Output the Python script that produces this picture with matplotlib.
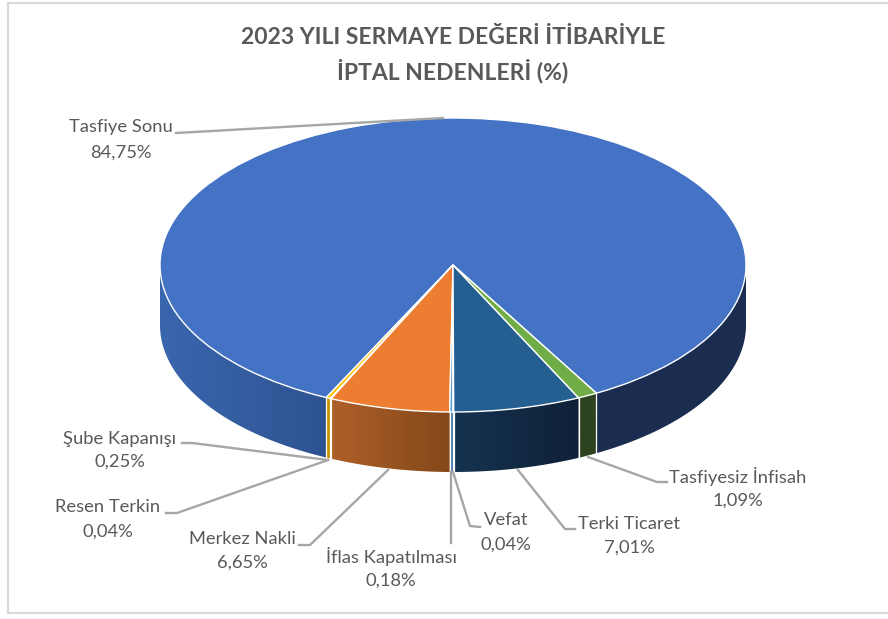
import numpy as np
import matplotlib
matplotlib.use("Agg")
import matplotlib.pyplot as plt
from matplotlib.colors import LinearSegmentedColormap
from matplotlib.patches import Polygon

W, H = 888, 619

categories = ["Tasfiye Sonu", "Şube Kapanışı", "Resen Terkin", "Merkez Nakli",
              "İflas Kapatılması", "Vefat", "Terki Ticaret", "Tasfiyesiz İnfisah"]
values = [84.75, 0.25, 0.04, 6.65, 0.18, 0.04, 7.01, 1.09]
top_colors = ["#4472C4", "#FFC000", "#A5A5A5", "#ED7D31", "#5B9BD5", "#264478", "#255E91", "#70AD47"]
# side wall gradients (left, right) for each visible piece of a slice
side_colors = [[("#3A66AE", "#2E5391"), ("#1A2D50", "#1A2D50")],
               [("#C79400", "#C79400")],
               [("#808080", "#808080")],
               [("#AE5F28", "#84481A")],
               [("#3F75A8", "#3F75A8")],
               [("#1B3056", "#1B3056")],
               [("#153350", "#0F2138")],
               [("#2D431F", "#2D431F")]]

START_ANGLE = -60.7
CX, CY, RX, RY = 453, 265, 293, 147
DEPTH = 60 / RY

# label centre x, first line y, second line y
label_pos = [(121, 127, 153), (120, 439, 462), (108, 507, 532), (242, 539, 563),
             (391, 557, 581), (506, 520, 545), (629, 524, 548), (738, 476, 501)]
leaders = [[(176, 133), (443, 118)],
           [(182, 443), (192, 443), (328, 460)],
           [(166, 513), (177, 513), (328, 460)],
           [(299, 545), (310, 545), (388, 470)],
           [(451, 472), (451, 543)],
           [(453, 472), (470, 526), (480, 527)],
           [(518, 470), (565, 529), (575, 529)],
           [(588, 457), (657, 482), (667, 482)]]

plt.rcParams['font.family'] = ['Lato', 'DejaVu Sans']

fig = plt.figure(figsize=(W / 100, H / 100), dpi=100, facecolor="white")

## Pie axes, one data unit is the pie radius
ax = fig.add_axes([0, 0, 1, 1])
ax.pie(values, colors=top_colors, startangle=START_ANGLE, counterclock=True, radius=1,
       wedgeprops={"edgecolor": "white", "linewidth": 1.0, "zorder": 5})
ax.set_aspect("auto")

fractions = np.array(values) / sum(values)
edges = START_ANGLE + 360 * np.concatenate([[0], np.cumsum(fractions)])

for i in range(len(values)):
    pieces = []
    for k in (-360, 0, 360):
        lo = max(edges[i] + k, 180)
        hi = min(edges[i + 1] + k, 360)
        if hi > lo:
            pieces.append((lo, hi))
    for (lo, hi), (c_left, c_right) in zip(pieces, side_colors[i]):
        th = np.radians(np.linspace(lo, hi, 80))
        x, y = np.cos(th), np.sin(th)
        verts = np.vstack([np.column_stack([x, y]), np.column_stack([x[::-1], y[::-1] - DEPTH])])
        poly = Polygon(verts, closed=True, facecolor="none", edgecolor="none", zorder=2)
        ax.add_patch(poly)
        cmap = LinearSegmentedColormap.from_list("side", [c_left, c_right])
        img = ax.imshow(np.linspace(0, 1, 128).reshape(1, -1), cmap=cmap, aspect="auto", zorder=2,
                        extent=(x.min(), x.max(), y.min() - DEPTH, y.max()), interpolation="bilinear")
        img.set_clip_path(poly)

# white seams between the side walls
for e in edges[:-1]:
    a = np.radians(e)
    if np.sin(a) < 0:
        ax.plot([np.cos(a)] * 2, [np.sin(a), np.sin(a) - DEPTH], color="white", lw=0.9, zorder=3)

ax.set_xlim((0 - CX) / RX, (W - CX) / RX)
ax.set_ylim((CY - H) / RY, CY / RY)
ax.axis("off")

## Overlay in pixel coordinates for frame, title and labels
ov = fig.add_axes([0, 0, 1, 1])
ov.set_xlim(0, W)
ov.set_ylim(H, 0)
ov.axis("off")
ov.patch.set_alpha(0)

ov.plot([W, 8, 8, W], [3, 3, 613, 613], color="#D9D9D9", lw=1.6, solid_joinstyle="miter")

ov.text(453, 37, "2023 YILI SERMAYE DEĞERİ İTİBARİYLE", ha="center", va="center",
        fontsize=16.5, fontweight="bold", color="#595959")
ov.text(453, 71, "İPTAL NEDENLERİ (%)", ha="center", va="center",
        fontsize=16.5, fontweight="bold", color="#595959")

for name, val, (lx, y1, y2), pts in zip(categories, values, label_pos, leaders):
    ov.text(lx, y1, name, ha="center", va="center", fontsize=13.2, color="#595959")
    ov.text(lx, y2, f"{val:.2f}%".replace(".", ","), ha="center", va="center", fontsize=13.2, color="#595959")
    px, py = zip(*pts)
    ov.plot(px, py, color="#A6A6A6", lw=1.7, solid_joinstyle="round")

fig.savefig("out.png", dpi=100)
